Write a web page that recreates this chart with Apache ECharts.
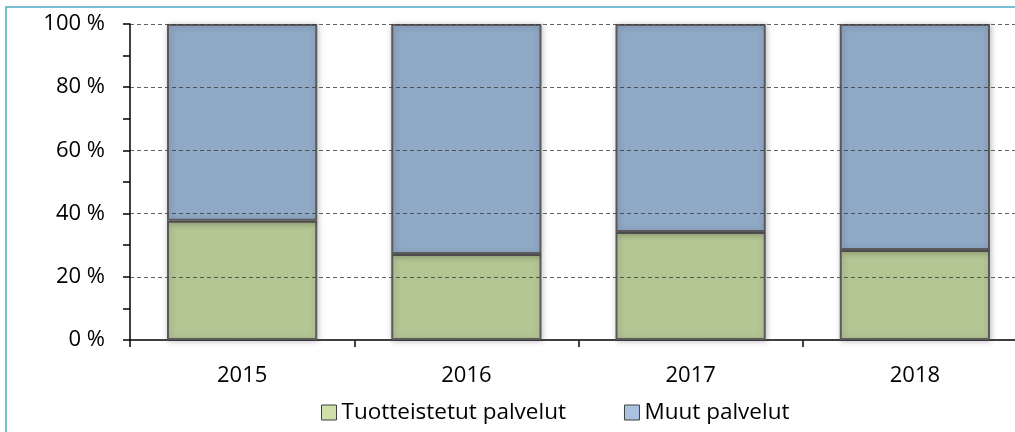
<!DOCTYPE html>
<html>
<head>
<meta charset="utf-8">
<script src="https://cdn.jsdelivr.net/npm/echarts@6/dist/echarts.min.js"></script>
<style>
  html, body { margin: 0; padding: 0; background: #fff; }
  #chart { width: 1015px; height: 432px; }
</style>
</head>
<body>
<div id="chart"></div>
<script>
// vuodet ja osuudet (%)
var years = ["2015", "2016", "2017", "2018"];
var tuotteistetut = [37.7, 27.2, 34.2, 28.5];
var muut = [62.3, 72.8, 65.8, 71.5];

var myChart = echarts.init(document.getElementById("chart"));
var font = "Open Sans, Liberation Sans, sans-serif";

myChart.setOption({
  animation: false,
  textStyle: { fontFamily: font },
  graphic: [
    {
      type: "polyline",
      shape: { points: [[6, 432], [6, 7], [1015, 7]] },
      style: { stroke: "#4bacc6", lineWidth: 1.5, fill: null },
    },
  ],
  grid: { left: 130, right: -12, top: 24, bottom: 92, outerBoundsMode: "none", containLabel: false },
  legend: {
    top: 396,
    left: 316,
    icon: "rect",
    itemWidth: 15,
    itemHeight: 15,
    itemGap: 58,
    textStyle: { fontSize: 22.5, color: "#000", fontFamily: font },
    data: [
      { name: "Tuotteistetut palvelut", itemStyle: { color: "#cfe0ad", borderColor: "#404040", borderWidth: 1 } },
      { name: "Muut palvelut", itemStyle: { color: "#a9c2e0", borderColor: "#404040", borderWidth: 1 } },
    ],
  },
  xAxis: {
    type: "category",
    data: years,
    axisLine: { lineStyle: { color: "#000", width: 1.5 } },
    axisTick: { show: true, length: 7, inside: false, lineStyle: { color: "#000", width: 1.5 } },
    axisLabel: { fontSize: 22, color: "#000", margin: 25 },
  },
  yAxis: {
    type: "value",
    min: 0,
    max: 100,
    interval: 20,
    z: 5,
    axisLine: { show: true, lineStyle: { color: "#000", width: 1.5 } },
    axisTick: { show: true, length: 7, lineStyle: { color: "#000", width: 1.5 } },
    minorTick: { show: true, splitNumber: 2, length: 7, lineStyle: { color: "#000", width: 1.5 } },
    axisLabel: { fontSize: 22, color: "#000", margin: 25, formatter: "{value} %" },
    splitLine: { show: true, lineStyle: { color: "rgba(60,60,60,0.8)", type: [4, 3], width: 1 } },
  },
  series: [
    {
      name: "Tuotteistetut palvelut",
      type: "bar",
      stack: "a",
      barCategoryGap: "33%",
      data: tuotteistetut,
      itemStyle: {
        color: "#b5c695",
        borderColor: "#5a5a5a",
        borderWidth: 2,
        shadowColor: "rgba(0,0,0,0.25)",
        shadowBlur: 6,
        shadowOffsetX: 1,
        shadowOffsetY: 1,
      },
    },
    {
      name: "Muut palvelut",
      type: "bar",
      stack: "a",
      data: muut,
      itemStyle: {
        color: "#8fa9c6",
        borderColor: "#5a5a5a",
        borderWidth: 2,
        shadowColor: "rgba(0,0,0,0.25)",
        shadowBlur: 6,
        shadowOffsetX: 1,
        shadowOffsetY: 1,
      },
    },
  ],
});

window.onresize = function () {
  myChart.resize();
};
</script>
</body>
</html>
